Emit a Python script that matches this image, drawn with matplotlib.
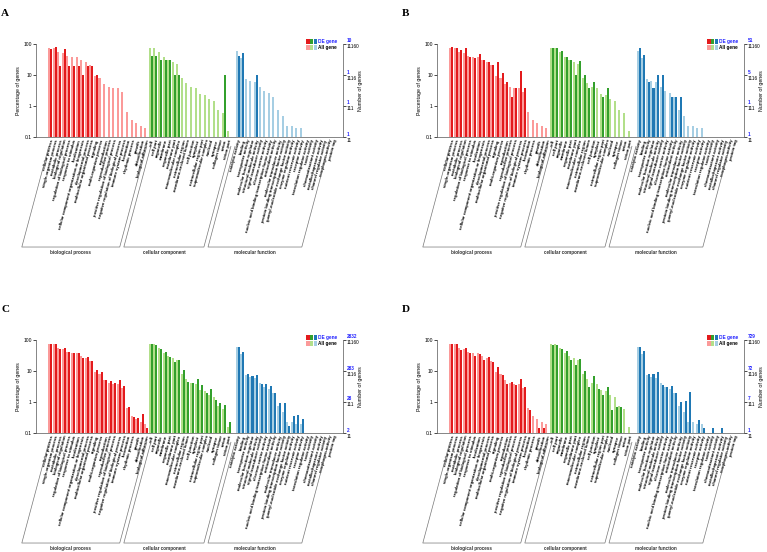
import numpy as np
import matplotlib
matplotlib.use("Agg")
import matplotlib.pyplot as plt
import matplotlib.transforms as mtransforms
from matplotlib.patches import Rectangle
from matplotlib.ticker import NullLocator

plt.rcParams['font.family'] = ['Liberation Sans', 'DejaVu Sans']

# GO terms (level 2)
bp_terms = ["cellular process", "single-organism process", "metabolic process",
            "biological regulation", "regulation of biological process",
            "response to stimulus", "localization",
            "cellular component organization or biogenesis", "developmental process",
            "multicellular organismal process", "signaling", "multi-organism process",
            "reproduction", "reproductive process",
            "positive regulation of biological process",
            "negative regulation of biological process", "immune system process",
            "locomotion", "rhythmic process", "growth", "detoxification",
            "biological adhesion"]
cc_terms = ["cell", "cell part", "organelle", "membrane", "organelle part",
            "membrane part", "macromolecular complex", "extracellular region",
            "membrane-enclosed lumen", "cell junction", "symplast",
            "extracellular region part", "supramolecular complex", "nucleoid",
            "synapse", "collagen trimer", "virion", "virion part"]
mf_terms = ["catalytic activity", "binding", "transporter activity",
            "molecular function regulator", "structural molecule activity",
            "signal transducer activity", "electron carrier activity",
            "nucleic acid binding transcription factor activity",
            "antioxidant activity", "molecular transducer activity",
            "protein binding transcription factor activity",
            "guanyl-nucleotide exchange factor activity", "enzyme regulator activity",
            "nutrient reservoir activity", "receptor activity",
            "translation regulator activity", "toxin activity",
            "chemoattractant activity", "metallochaperone activity",
            "channel regulator activity", "morphogen activity", "protein tag"]

# percentage of all genes (same background in every panel)
bp_all = [72, 75, 55, 52, 42, 37, 37, 30, 27, 21, 9, 8, 5, 4.2, 3.9, 3.8, 2.9,
          0.65, 0.35, 0.28, 0.22, 0.19]
cc_all = [75, 72, 57, 38, 30, 26, 22, 8, 5.5, 4.2, 3.9, 2.4, 2.3, 1.7, 1.4,
          0.75, 0.6, 0.16]
mf_all = [60, 36, 7.6, 6.3, 6, 4.2, 3.1, 2.6, 2.0, 0.75, 0.48, 0.23, 0.22, 0.2,
          0.2, 0, 0, 0, 0, 0, 0, 0]

# percentage of DE genes, one set per panel
bp_de_a = [70, 80, 20, 70, 20, 20, 20, 10, 20, 20, 10, 0, 0, 0, 0, 0, 0, 0, 0, 0, 0, 0]
cc_de_a = [40, 40, 30, 30, 30, 10, 10, 0, 0, 0, 0, 0, 0, 0, 0, 0, 10, 0]
mf_de_a = [40, 50, 0, 0, 10, 0, 0, 0, 0, 0, 0, 0, 0, 0, 0, 0, 0, 0, 0, 0, 0, 0]

bp_de_b = [82.4, 72.5, 62.7, 72.5, 39.2, 35.3, 49, 29.4, 25.5, 21.6, 25.5, 11.8,
           5.9, 1.96, 3.92, 13.7, 3.92, 0, 0, 0, 0, 0]
cc_de_b = [74.5, 74.5, 58.8, 39.2, 31.4, 9.8, 27.5, 9.8, 3.92, 5.9, 0, 1.96,
           3.92, 0, 0, 0, 0, 0]
mf_de_b = [72.5, 43.1, 5.9, 3.92, 9.8, 9.8, 0, 1.96, 1.96, 1.96, 0, 0, 0, 0, 0,
           0, 0, 0, 0, 0, 0, 0]

bp_de_c = [72, 72, 53, 57, 40, 37, 37, 27, 28, 21, 11, 9, 5, 4.8, 4.0, 5.0, 3.3,
           0.7, 0.32, 0.3, 0.4, 0.14]
cc_de_c = [72, 68, 53, 42, 28, 20, 23, 10.5, 4.5, 4.0, 5.7, 3.6, 2.0, 2.6, 1.2,
           0.95, 0.8, 0.22]
mf_de_c = [58, 40, 8.2, 7.0, 7.3, 3.8, 3.8, 3.2, 1.9, 0.95, 0.95, 0.17, 0.35,
           0.38, 0.28, 0, 0, 0, 0, 0, 0, 0]

bp_de_d = [72, 75, 47, 57, 37, 31, 35, 22, 29, 20, 13, 7.5, 3.8, 4.3, 3.6, 5.5,
           3.0, 0.55, 0, 0.14, 0.14, 0]
cc_de_d = [70, 67, 52, 45, 23, 16, 25, 10, 3.0, 7.0, 2.7, 1.7, 3.0, 0.55, 0.7,
           0.7, 0, 0]
mf_de_d = [58, 44, 8.2, 8.2, 9.0, 3.6, 3.1, 3.2, 1.9, 1.0, 1.1, 2.1, 0, 0.27,
           0.14, 0, 0.14, 0, 0.14, 0, 0, 0]

panel_names = ["A", "B", "C", "D"]
de_totals = [10, 51, 2832, 729]
all_total = 11160

bp_de = [bp_de_a, bp_de_b, bp_de_c, bp_de_d]
cc_de = [cc_de_a, cc_de_b, cc_de_c, cc_de_d]
mf_de = [mf_de_a, mf_de_b, mf_de_c, mf_de_d]

# ColorBrewer "Paired": (dark, light) per ontology
colors = [("#e31a1c", "#fb9a99"), ("#33a02c", "#b2df8a"), ("#1f78b4", "#a6cee3")]
cat_names = ["biological process", "cellular component", "molecular function"]

W, H = 767, 552
fig = plt.figure(figsize=(W / 100, H / 100), dpi=100)
fig.patch.set_facecolor("white")

# slot offsets of the three groups (one empty slot between CC and MF)
starts = [0, len(bp_terms), len(bp_terms) + len(cc_terms) + 1]
# bracket tops (slot units) for each group
brackets = [(0.2, 21.6), (22.5, 40.0), (40.9, 61.4)]
shift = 5.9   # horizontal run of the slanted bracket lines (slots)
decades = [0.1, 1, 10, 100]
blue = "#2323ff"


def draw_panel(k, left, top):
    ax = fig.add_axes([left / W, 1 - (top + 93) / H, 307 / W, 93 / H])
    ax.set_yscale("log")
    groups = [(bp_terms, bp_all, bp_de[k]), (cc_terms, cc_all, cc_de[k]),
              (mf_terms, mf_all, mf_de[k])]
    ticks, labels = [], []
    for g, (terms, allv, dev) in enumerate(groups):
        x = starts[g] + np.arange(len(terms))
        allv = np.array(allv, dtype=float)
        dev = np.array(dev, dtype=float)
        m = allv > 0
        ax.bar(x[m] + 0.06, allv[m], width=0.44, align="edge",
               color=colors[g][1], linewidth=0)
        m = dev > 0
        ax.bar(x[m] + 0.5, dev[m], width=0.44, align="edge",
               color=colors[g][0], linewidth=0)
        ticks += list(x + 0.5)
        labels += terms

    ax.set_xlim(-2.6, 64.5)
    ax.set_ylim(0.1, 100)
    ax.set_xticks(ticks)
    ax.set_xticklabels(labels, rotation=75, ha="right", rotation_mode="anchor",
                       fontsize=3.1, fontweight="bold")
    ax.tick_params(axis="x", length=0, pad=1.5)
    ax.set_yticks(decades)
    ax.set_yticklabels(["0.1", "1", "10", "100"], fontsize=3.6)
    ax.yaxis.set_minor_locator(NullLocator())
    ax.tick_params(axis="y", length=2, width=0.5, pad=1)
    ax.spines["top"].set_visible(False)
    for s in ["left", "bottom", "right"]:
        ax.spines[s].set_linewidth(0.5)
        ax.spines[s].set_color("#555555")
    ax.set_ylabel("Percentage of genes", fontsize=3.8, labelpad=2)

    # right axis: number of genes (DE in blue above, all genes below)
    ax.tick_params(axis="y", which="major", right=True)
    trans = mtransforms.blended_transform_factory(ax.transAxes, ax.transData)
    up = trans + mtransforms.ScaledTranslation(0, 0.03, fig.dpi_scale_trans)
    down = trans + mtransforms.ScaledTranslation(0, -0.03, fig.dpi_scale_trans)
    for d in decades:
        n_de = max(1, int(de_totals[k] * d / 100))
        n_all = int(all_total * d / 100)
        ax.text(1.013, d, str(n_de), transform=up, fontsize=3.4, color=blue,
                va="center", ha="left", fontweight="bold")
        ax.text(1.013, d, str(n_all), transform=down, fontsize=3.4,
                va="center", ha="left")
    ax.text(1.058, 0.5, "Number of genes", transform=ax.transAxes, fontsize=3.8,
            rotation=90, va="center", ha="center")

    # legend
    for g in range(3):
        for row, shade in enumerate([0, 1]):
            ax.add_patch(Rectangle((0.880 + g * 0.0125, 1.005 - row * 0.068),
                                   0.011, 0.05, transform=ax.transAxes,
                                   color=colors[g][shade], clip_on=False,
                                   linewidth=0))
    ax.text(0.920, 1.03, "DE gene", transform=ax.transAxes, fontsize=3.4,
            color=blue, va="center", fontweight="bold")
    ax.text(0.920, 0.962, "All gene", transform=ax.transAxes, fontsize=3.4,
            va="center", fontweight="bold")

    # slanted brackets under the term labels
    bt = mtransforms.blended_transform_factory(ax.transData, ax.transAxes)
    yt, yb = -0.10, -1.183
    for g, (xl, xr) in enumerate(brackets):
        ax.plot([xl, xl - shift, xr - shift, xr], [yt, yb, yb, yt],
                transform=bt, color="#777777", linewidth=0.5, clip_on=False)
        ax.text((xl + xr) / 2 - shift, yb - 0.03, cat_names[g], transform=bt,
                fontsize=3.3, ha="center", va="top", fontweight="bold",
                color="#333333")

    fig.text((left - 31) / W, 1 - (top - 31) / H, panel_names[k],
             fontfamily="Liberation Serif", fontweight="bold", fontsize=8,
             va="center", ha="center")


for k, (lx, ty) in enumerate([(36, 44), (437, 44), (36, 340), (437, 340)]):
    draw_panel(k, lx, ty)

fig.savefig("out.png", dpi=100, facecolor="white")
